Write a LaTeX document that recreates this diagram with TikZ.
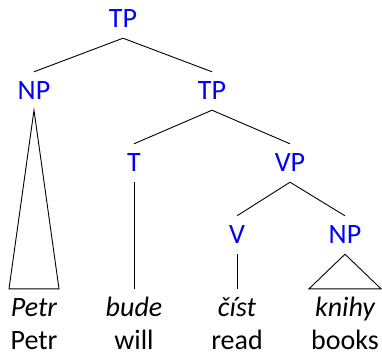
\documentclass[tikz,border=0pt]{standalone}
\usepackage{fontspec}
\setmainfont{Carlito}
\usetikzlibrary{calc}
\begin{document}
\begin{tikzpicture}[x=1pt,y=-1pt,
  lab/.style={anchor=base,inner sep=0pt,text height=27pt,text depth=11pt,font=\fontsize{28}{32}\selectfont},
  cat/.style={lab,text=blue},
  word/.style={lab,font=\fontsize{28}{32}\selectfont\itshape},
  gloss/.style={anchor=base,inner sep=0pt,text depth=0pt,font=\fontsize{28}{32}\selectfont},
  edge/.style={draw=black,line width=0.9pt}]
\useasboundingbox (0,0) rectangle (382,354);
\node[cat] (tp) at (123,27) {TP};
\node[cat] (np) at (34,99) {NP};
\node[cat] (tp2) at (212,99) {TP};
\node[cat] (t) at (134,171) {T};
\node[cat] (vp) at (290,171) {VP};
\node[cat] (v) at (237,243) {V};
\node[cat] (np2) at (345,243) {NP};
\node[word] (w1) at (34,316) {Petr};
\node[word] (w2) at (134,316) {bude};
\node[word] (w3) at (237,316) {číst};
\node[word] (w4) at (345,316) {knihy};
\node[gloss] (g1) at (34,349) {Petr};
\node[gloss] (g2) at (134,349) {will};
\node[gloss] (g3) at (237,349) {read};
\node[gloss] (g4) at (345,349) {books};
\draw[edge] (tp.south) -- (np.north);
\draw[edge] (tp.south) -- (tp2.north);
\draw[edge] (tp2.south) -- (t.north);
\draw[edge] (tp2.south) -- (vp.north);
\draw[edge] (vp.south) -- (v.north);
\draw[edge] (vp.south) -- (np2.north);
\draw[edge] (t.south) -- (w2.north);
\draw[edge] (v.south) -- (w3.north);
\coordinate (b1l) at ($(w1.north)+(-25,0)$);
\coordinate (b1r) at ($(w1.north)+(25,0)$);
\coordinate (b4l) at ($(w4.north)+(-36,0)$);
\coordinate (b4r) at ($(w4.north)+(36,0)$);
\draw[edge] (np.south) -- (b1l) -- (b1r) -- cycle;
\draw[edge] (np2.south) -- (b4l) -- (b4r) -- cycle;
\end{tikzpicture}
\end{document}
